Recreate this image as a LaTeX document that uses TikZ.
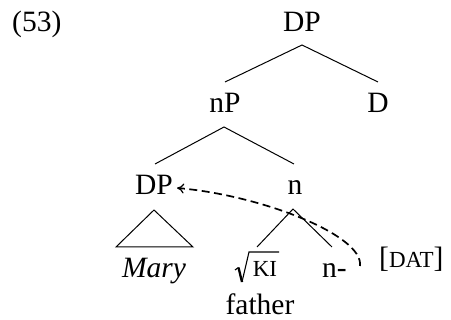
\documentclass[tikz,border=0pt]{standalone}
\usepackage{fontspec}
\setmainfont{Liberation Serif}
\usetikzlibrary{arrows.meta}
\tikzset{
  lbl/.style={inner sep=0pt, anchor=base, font=\fontsize{29.5}{33}\selectfont},
  branch/.style={line width=1pt},
  radical/.style={line width=1.1pt, line join=miter},
  mover/.style={line width=1.7pt, dash pattern=on 8pt off 4.5pt, -{To[length=7pt,width=10pt,line width=1.2pt]}}
}
\newcommand{\mysc}[1]{{\fontsize{23}{25}\selectfont #1}}
\begin{document}
\begin{tikzpicture}[x=1pt,y=-1pt]
\useasboundingbox (0,0) rectangle (451,320);
% labels
\node[lbl, anchor=base west] (ex) at (12,32) {(53)};
\node[lbl] (dptop) at (302,32) {DP};
\node[lbl] (np) at (225,113) {nP};
\node[lbl] (d) at (378,113) {D};
\node[lbl] (dpl) at (154,195) {DP};
\node[lbl] (n) at (295,195) {n};
\node[lbl] (mary) at (154,278) {\textit{Mary}};
\node[lbl] (root) at (265,277) {\mysc{KI}};
\node[lbl] (father) at (260,315) {father};
\node[lbl, anchor=base west] (nmin) at (322,278) {n-};
\node[lbl, anchor=base west] (dat) at (379,268) {[\mysc{DAT}]};
% radical sign
\coordinate (r0) at (235,270);
\coordinate (r1) at (238.5,267.5);
\coordinate (r2) at (242,282);
\coordinate (r3) at (249,252);
\coordinate (r4) at (279,252);
\draw[radical] (r0) -- (r1);
\draw[line width=2.3pt] (r1) -- (r2);
\draw[radical] (r2) -- (r3) -- (r4);
% branch coordinates
\coordinate (a1) at (302,45);
\coordinate (a1l) at (225,82);
\coordinate (a1r) at (378,82);
\coordinate (a2) at (224,127);
\coordinate (a2l) at (155,164);
\coordinate (a2r) at (294,164);
\coordinate (t1) at (154,210);
\coordinate (t1l) at (116,247);
\coordinate (t1r) at (193,247);
\coordinate (a3) at (293,209);
\coordinate (a3l) at (257,247);
\coordinate (a3r) at (332,247);
\draw[branch] (a1l) -- (a1) -- (a1r);
\draw[branch] (a2l) -- (a2) -- (a2r);
\draw[branch] (t1) -- (t1l) -- (t1r) -- cycle;
\draw[branch] (a3l) -- (a3) -- (a3r);
% movement arrow
\coordinate (mvstart) at (360,266);
\coordinate (mvend) at (177,188);
\draw[mover] (mvstart) .. controls (364,235) and (260,195) .. (mvend);
\end{tikzpicture}
\end{document}
